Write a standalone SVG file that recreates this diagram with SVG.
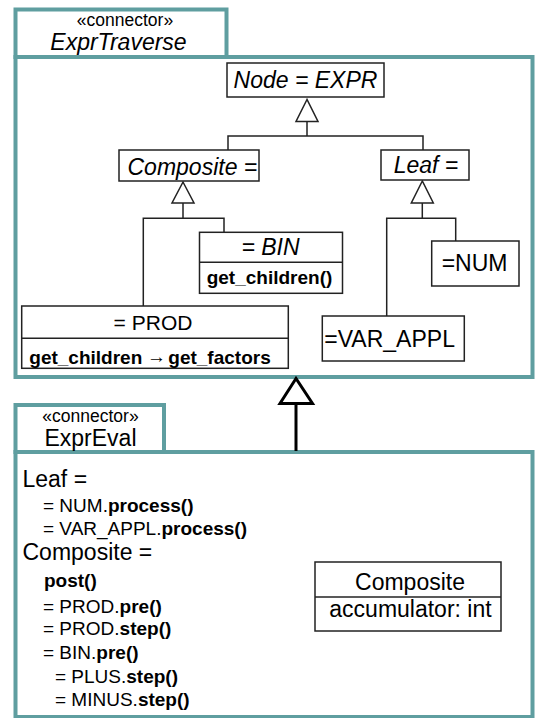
<svg xmlns="http://www.w3.org/2000/svg" width="535" height="718" viewBox="0 0 535 718">
<style>
text{font-family:"Liberation Sans",Arial,sans-serif;fill:#000}
.pkg{fill:#fff;stroke:#5f9ea0;stroke-width:4}
.box{fill:#fff;stroke:#222;stroke-width:1.5}
.ln{fill:none;stroke:#222;stroke-width:1.5}
.tri{fill:#fff;stroke:#222;stroke-width:1.5}
.big{fill:#fff;stroke:#000;stroke-width:3}
.it{font-style:italic}
.t23{font-size:23px}
.t19{font-size:19px}
.st{font-size:17.5px}
.b{font-weight:bold}
</style>
<rect width="535" height="718" fill="#fff"/>
<g id="pkg-ExprTraverse">
<rect class="pkg" x="15.5" y="9.5" width="211" height="47.5"/>
<rect class="pkg" x="15.5" y="57" width="517" height="320"/>
<text class="st" x="125" y="25.5" text-anchor="middle">«connector»</text>
<text class="t23 it" x="118.5" y="49.5" text-anchor="middle">ExprTraverse</text>
</g>
<g id="pkg-ExprEval">
<rect class="pkg" x="15.5" y="405" width="148.5" height="47"/>
<rect class="pkg" x="15.5" y="452" width="517" height="265"/>
<text class="st" x="90.5" y="421.5" text-anchor="middle">«connector»</text>
<text class="t23" x="90.5" y="445.5" text-anchor="middle">ExprEval</text>
<text class="t23" x="22.5" y="487">Leaf =</text>
<text class="t19" x="43" y="512">= NUM.<tspan class="b">process()</tspan></text>
<text class="t19" x="43" y="535">= VAR_APPL.<tspan class="b">process()</tspan></text>
<text class="t23" x="22.5" y="560">Composite =</text>
<text class="t19 b" x="44" y="587">post()</text>
<text class="t19" x="43" y="613">= PROD.<tspan class="b">pre()</tspan></text>
<text class="t19" x="43" y="635">= PROD.<tspan class="b">step()</tspan></text>
<text class="t19" x="43" y="659">= BIN.<tspan class="b">pre()</tspan></text>
<text class="t19" x="55" y="683">= PLUS.<tspan class="b">step()</tspan></text>
<text class="t19" x="55" y="706">= MINUS.<tspan class="b">step()</tspan></text>
</g>
<g id="connectors">
<polygon class="tri" points="307,99.5 296,121.5 318,121.5"/>
<path class="ln" d="M307,121.5V136M228,150V136H423V150"/>
<polygon class="tri" points="183,182 172,203 194,203"/>
<path class="ln" d="M183,203V218.3M143.3,306V218.3H224V232"/>
<polygon class="tri" points="422.3,181 411.3,203 433.3,203"/>
<path class="ln" d="M422.3,203V218.3M386.7,316V218.3H455.7V241"/>
<polygon class="big" points="296,378.5 280,403.5 312.5,403.5"/>
<path fill="none" stroke="#000" stroke-width="3" d="M296,403.5V451"/>
</g>
<g id="node-expr">
<rect class="box" x="227" y="63" width="157" height="34"/>
<text class="t23 it" x="305.5" y="87.5" text-anchor="middle">Node = EXPR</text>
</g>
<g id="node-composite">
<rect class="box" x="119" y="150" width="140" height="31"/>
<text class="t23 it" x="127.5" y="175">Composite =</text>
</g>
<g id="node-leaf">
<rect class="box" x="381" y="150" width="88" height="30"/>
<text class="t23 it" x="426" y="173" text-anchor="middle">Leaf =</text>
</g>
<g id="node-bin">
<rect class="box" x="199.5" y="232.3" width="143" height="61"/>
<path class="ln" d="M199.5,262.3H342.5"/>
<text class="t23 it" x="270.5" y="255" text-anchor="middle">= BIN</text>
<text class="t19 b" x="206.7" y="283.5">get_children()</text>
</g>
<g id="node-prod">
<rect class="box" x="21.7" y="306" width="266.6" height="62.3"/>
<path class="ln" d="M21.7,338.3H288.3"/>
<text x="153" y="330" font-size="21" text-anchor="middle">= PROD</text>
<text class="t19 b" x="29.3" y="363.5">get_children</text>
<text class="t19 b" x="147" y="363">→</text>
<text class="t19 b" x="168.3" y="363.5">get_factors</text>
</g>
<g id="node-num">
<rect class="box" x="431.7" y="241" width="87.3" height="45"/>
<text class="t23" x="441.7" y="271">=NUM</text>
</g>
<g id="node-var-appl">
<rect class="box" x="322.3" y="316" width="142" height="45"/>
<text class="t23" x="324.3" y="347">=VAR_APPL</text>
</g>
<g id="node-composite-eval">
<rect class="box" x="315" y="562" width="186" height="69"/>
<path class="ln" d="M315,597H501"/>
<text class="t23" x="410" y="590" text-anchor="middle">Composite</text>
<text class="t23" x="329.3" y="617">accumulator: int</text>
</g>
</svg>
